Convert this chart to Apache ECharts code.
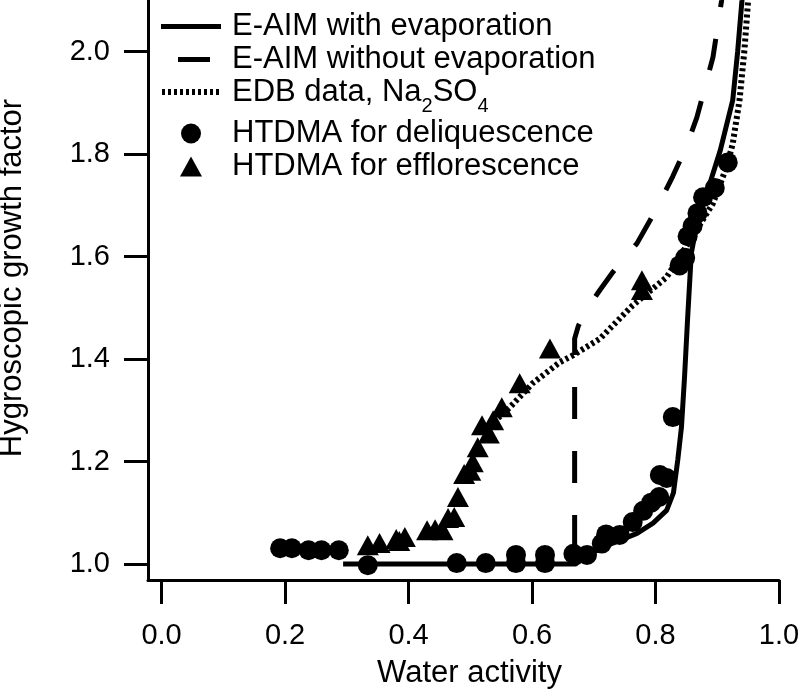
<!DOCTYPE html>
<html>
<head>
<meta charset="utf-8">
<script src="https://cdn.jsdelivr.net/npm/echarts@6/dist/echarts.min.js"></script>
<style>html,body{margin:0;padding:0;background:#fff;}#c{width:800px;height:693px;}</style>
</head>
<body>
<div id="c"></div>
<script>
// ---- data (water activity, growth factor) ----
var withEvap = [[0.294,1.0],[0.670,1.0],[0.685,1.012],[0.699,1.023],[0.731,1.041],[0.770,1.060],[0.796,1.080],[0.818,1.105],[0.829,1.139],[0.836,1.203],[0.842,1.267],[0.847,1.365],[0.852,1.48],[0.858,1.607],[0.868,1.670],[0.888,1.743],[0.905,1.808],[0.925,1.905],[0.933,2.0],[0.940,2.10],[0.945,2.2]];
var withoutEvap = [[0.669,1.0],[0.669,1.44],[0.675,1.465],[0.690,1.50],[0.710,1.535],[0.731,1.570],[0.770,1.626],[0.800,1.69],[0.828,1.757],[0.850,1.815],[0.867,1.872],[0.893,1.989],[0.907,2.10],[0.915,2.2]];
var edbData = [[0.545,1.285],[0.564,1.306],[0.601,1.353],[0.645,1.394],[0.667,1.408],[0.710,1.440],[0.763,1.505],[0.818,1.560],[0.856,1.632],[0.893,1.704],[0.915,1.775],[0.925,1.82],[0.936,1.905],[0.944,2.003],[0.950,2.10],[0.955,2.2]];
var deliq = [[0.192,1.031],[0.211,1.031],[0.238,1.027],[0.259,1.027],[0.287,1.027],[0.334,0.998],[0.478,1.002],[0.525,1.002],[0.574,1.002],[0.574,1.018],[0.621,1.002],[0.621,1.018],[0.667,1.02],[0.689,1.018],[0.713,1.04],[0.720,1.058],[0.742,1.057],[0.763,1.082],[0.780,1.104],[0.793,1.12],[0.806,1.131],[0.807,1.174],[0.818,1.168],[0.828,1.287],[0.839,1.583],[0.848,1.598],[0.852,1.640],[0.860,1.660],[0.868,1.685],[0.877,1.716],[0.896,1.734],[0.917,1.784]];
var efflo = [[0.334,1.037],[0.353,1.041],[0.380,1.049],[0.385,1.045],[0.394,1.053],[0.430,1.066],[0.443,1.068],[0.455,1.066],[0.464,1.09],[0.474,1.092],[0.480,1.131],[0.490,1.176],[0.500,1.182],[0.504,1.199],[0.512,1.228],[0.519,1.271],[0.530,1.255],[0.537,1.281],[0.551,1.306],[0.580,1.353],[0.629,1.421],[0.778,1.535],[0.778,1.554]];
var xTicks = [0.0, 0.2, 0.4, 0.6, 0.8, 1.0];
var yTicks = [1.0, 1.2, 1.4, 1.6, 1.8, 2.0];
var names = ['E-AIM with evaporation','E-AIM without evaporation','EDB data, Na2SO4','HTDMA for deliquescence','HTDMA for efflorescence'];

var FONT = 'Liberation Sans';
var SOLID = {color:'#000', width:5, type:'solid'};
var DASH_LEG = {color:'#000', width:5, type:[32,32]};
var DASH = {color:'#000', width:5, type:[32,32], dashOffset:47};
var DOT = {color:'#000', width:6, type:[3,3]};
var chart = echarts.init(document.getElementById('c'), null, {renderer:'canvas'});
var axisCommon = {
  axisLine:{show:true, onZero:false, lineStyle:{color:'#000', width:3}},
  axisTick:{show:true, length:24, lineStyle:{color:'#000', width:3}},
  splitLine:{show:false}
};
chart.setOption({
  animation:false,
  backgroundColor:'#fff',
  grid:{left:148, right:21, top:0, bottom:113, containLabel:false, outerBoundsMode:'none'},
  legend:{
    orient:'vertical', left:158, top:11, padding:0, itemGap:2,
    itemWidth:60, itemHeight:20,
    textStyle:{color:'#000', fontSize:31, fontFamily:FONT, lineHeight:30, padding:[0,0,0,6],
      rich:{
        n:{fontSize:31, fontFamily:FONT, color:'#000', lineHeight:30, verticalAlign:'top'},
        s:{fontSize:20, fontFamily:FONT, color:'#000', lineHeight:20, padding:[19,0,0,0], verticalAlign:'top'}
      }},
    formatter:function(n){ return n===names[2] ? '{n|EDB data, Na}{s|2}{n|SO}{s|4}' : n; },
    data:[
      {name:names[0], itemStyle:{opacity:0}, lineStyle:SOLID},
      {name:names[1], itemStyle:{opacity:0}, lineStyle:DASH_LEG},
      {name:names[2], itemStyle:{opacity:0}, lineStyle:DOT},
      {name:names[3]},
      {name:names[4], icon:'path://M11,0L22,20L0,20Z'}
    ]
  },
  xAxis:Object.assign({}, axisCommon, {
    type:'value', min:-0.022, max:1.0,
    name:'Water activity', nameLocation:'middle', nameGap:78,
    nameTextStyle:{color:'#000', fontSize:31, fontFamily:FONT, padding:[0,0,0,12]},
    axisTick:Object.assign({}, axisCommon.axisTick, {customValues:xTicks}),
    axisLabel:{customValues:xTicks, color:'#000', fontSize:29, fontFamily:FONT, margin:41,
      formatter:function(v){return v.toFixed(1);}}
  }),
  yAxis:Object.assign({}, axisCommon, {
    type:'value', min:0.969, max:2.101,
    name:'Hygroscopic growth factor', nameLocation:'middle', nameGap:120, nameRotate:90,
    nameTextStyle:{color:'#000', fontSize:31, fontFamily:FONT, padding:[0,0,0,24]},
    axisTick:Object.assign({}, axisCommon.axisTick, {customValues:yTicks}),
    axisLabel:{customValues:yTicks, color:'#000', fontSize:29, fontFamily:FONT, margin:38,
      formatter:function(v){return v.toFixed(1);}}
  }),
  series:[
    {name:names[0], type:'line', data:withEvap, symbol:'none', clip:true,
      lineStyle:SOLID, itemStyle:{color:'#000'}},
    {name:names[1], type:'line', data:withoutEvap, symbol:'none', clip:true,
      lineStyle:DASH, itemStyle:{color:'#000'}},
    {name:names[2], type:'line', data:edbData, symbol:'none', clip:true,
      lineStyle:DOT, itemStyle:{color:'#000'}},
    {name:names[3], type:'scatter', data:deliq, symbol:'circle', symbolSize:20,
      itemStyle:{color:'#000', opacity:1}},
    {name:names[4], type:'scatter', data:efflo, symbol:'triangle', symbolSize:[22,20],
      itemStyle:{color:'#000', opacity:1}}
  ]
});
</script>
</body>
</html>
